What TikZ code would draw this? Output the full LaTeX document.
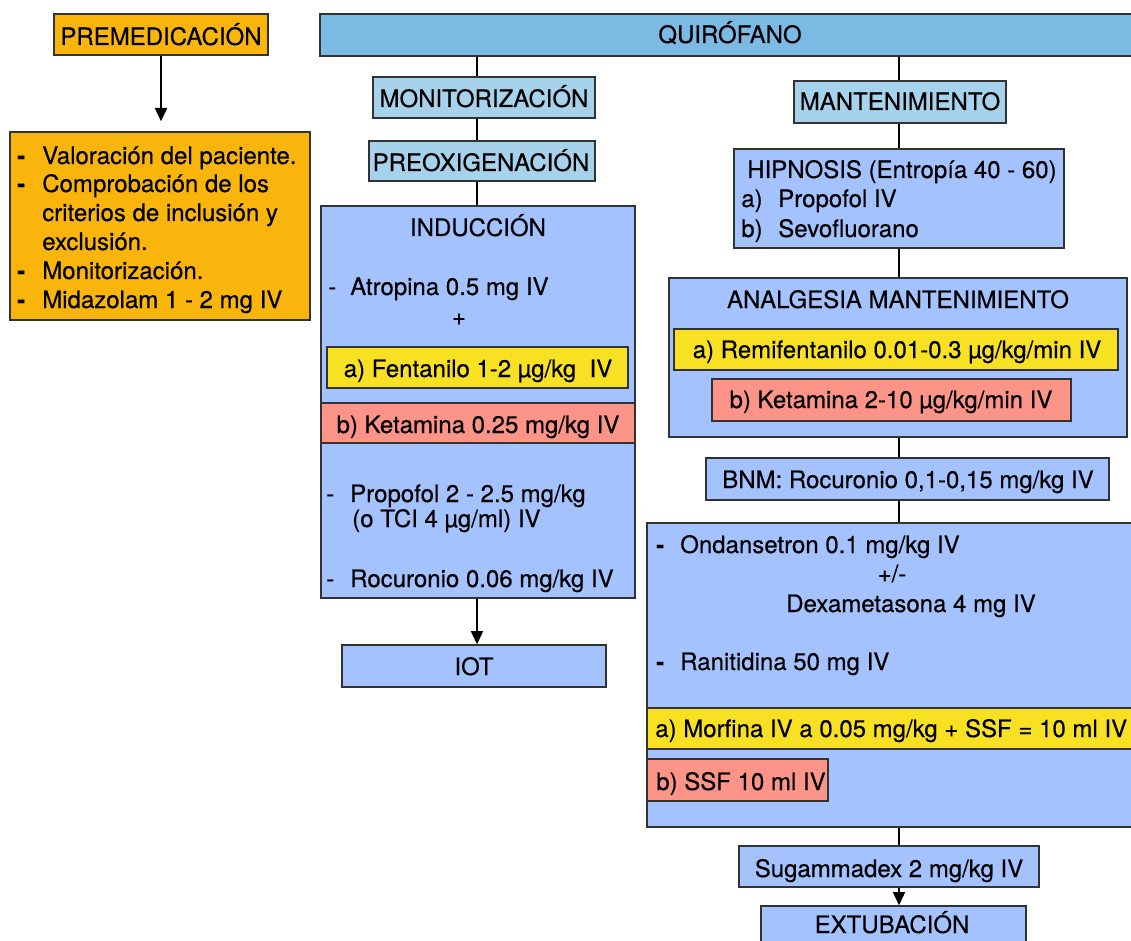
\documentclass[tikz,border=0pt]{standalone}
\usepackage{fontspec}
\setmainfont{TeX Gyre Heros}[FakeBold=0.4]
\usetikzlibrary{fit,arrows.meta}
\definecolor{orng}{RGB}{249,181,11}
\definecolor{qbar}{RGB}{123,186,227}
\definecolor{sky}{RGB}{166,210,236}
\definecolor{peri}{RGB}{164,195,254}
\definecolor{yel}{RGB}{248,224,35}
\definecolor{sal}{RGB}{252,148,136}
\definecolor{edge}{RGB}{50,50,50}
\begin{document}
\begin{tikzpicture}[x=0.75pt,y=-0.75pt,
  font=\fontsize{18}{21}\selectfont,
  box/.style={draw=edge, line width=1pt, inner sep=0pt, rectangle},
  ltxt/.style={inner sep=0pt, anchor=base west},
  ctxt/.style={inner sep=0pt, anchor=base},
  conn/.style={draw=black, line width=1.5pt},
  arr/.style={conn, -{Triangle[length=10pt,width=9pt]}}]
\useasboundingbox (0,0) rectangle (1131,941);
% ---------- PREMEDICACION ----------
\node[box, fill=orng, fit={(54,14) (268,55)}] (prem) {};
\node[ctxt] (tprem) at (161,45) {PREMEDICACIÓN};
\node[box, fill=orng, fit={(10,132) (310,320)}] (plist) {};
\node[ltxt] (d1) at (17,164) {\bfseries -};
\node[ltxt] (p1) at (42,164) {Valoración del paciente.};
\node[ltxt] (d2) at (17,192) {\bfseries -};
\node[ltxt] (p2) at (42,192) {Comprobación de los};
\node[ltxt] (p3) at (42,221) {criterios de inclusión y};
\node[ltxt] (p4) at (42,250) {exclusión.};
\node[ltxt] (d3) at (17,279) {\bfseries -};
\node[ltxt] (p5) at (42,279) {Monitorización.};
\node[ltxt] (d4) at (17,308) {\bfseries -};
\node[ltxt] (p6) at (42,308) {Midazolam 1 - 2 mg IV};
\draw[arr, shorten >=7.5pt] (prem.south) -- (prem.south |- plist.north);
% ---------- QUIROFANO ----------
\node[box, fill=qbar, fit={(320,14) (1145,56)}] (qbar) {};
\node[ctxt] (tq) at (730,43) {QUIRÓFANO};
\coordinate (lcol) at (477,0);
\coordinate (rcol) at (899,0);
% ---------- left column ----------
\node[box, fill=sky, fit={(373,77) (595,118)}] (monit) {};
\node[ctxt] (tmonit) at (484,107) {MONITORIZACIÓN};
\node[box, fill=sky, fit={(369,141) (595,181)}] (preox) {};
\node[ctxt] (tpreox) at (481,171) {PREOXIGENACIÓN};
\node[box, fill=peri, fit={(321,206) (635,598)}] (ind) {};
\node[ctxt] (tind) at (478,236) {INDUCCIÓN};
\node[ltxt] (ia0) at (328,295) {-};
\node[ltxt] (ia) at (350,295) {Atropina 0.5 mg IV};
\node[ctxt] (iplus) at (459,325) {+};
\node[box, fill=yel, fit={(327,347) (628,388)}] (ifen) {};
\node[ctxt] (tifen) at (478,377) {a) Fentanilo 1-2 µg/kg\ \ IV};
\node[box, fill=sal, fit={(321,403) (635,443)}] (iket) {};
\node[ctxt] (tiket) at (478,433) {b) Ketamina 0.25 mg/kg IV};
\node[ltxt] (ip0) at (326,502) {-};
\node[ltxt] (ip) at (350,502) {Propofol 2 - 2.5 mg/kg};
\node[ltxt] (ip2) at (352,527) {(o TCI 4 µg/ml) IV};
\node[ltxt] (ir0) at (326,587) {-};
\node[ltxt] (ir) at (350,587) {Rocuronio 0.06 mg/kg IV};
\node[box, fill=peri, fit={(342,645) (606,687)}] (iot) {};
\node[ctxt] (tiot) at (474,675) {IOT};
\draw[conn] (lcol |- qbar.south) -- (lcol |- monit.north);
\draw[conn] (lcol |- monit.south) -- (lcol |- preox.north);
\draw[conn] (lcol |- preox.south) -- (lcol |- ind.north);
\draw[arr] (lcol |- ind.south) -- (lcol |- iot.north);
% ---------- right column ----------
\node[box, fill=sky, fit={(794,81) (1006,123)}] (mant) {};
\node[ctxt] (tmant) at (900,110) {MANTENIMIENTO};
\node[box, fill=peri, fit={(734,149) (1064,248)}] (hip) {};
\node[ltxt] (th1) at (747,178) {HIPNOSIS (Entropía 40 - 60)};
\node[ltxt] (th2a) at (741,207) {a)};
\node[ltxt] (th2) at (778,207) {Propofol IV};
\node[ltxt] (th3a) at (741,237) {b)};
\node[ltxt] (th3) at (778,237) {Sevofluorano};
\node[box, fill=peri, fit={(669,278) (1127,437)}] (anal) {};
\node[ctxt] (tanal) at (898,308) {ANALGESIA MANTENIMIENTO};
\node[box, fill=yel, fit={(674,329) (1118,370)}] (remi) {};
\node[ctxt] (tremi) at (897,358) {a) Remifentanilo 0.01-0.3 µg/kg/min IV};
\node[box, fill=sal, fit={(712,379) (1071,421)}] (keta) {};
\node[ctxt] (tketa) at (891,408) {b) Ketamina 2-10 µg/kg/min IV};
\node[box, fill=peri, fit={(706,458) (1109,500)}] (bnm) {};
\node[ctxt] (tbnm) at (908,488) {BNM: Rocuronio 0,1-0,15 mg/kg IV};
\node[box, fill=peri, fit={(647,523) (1145,827)}] (big) {};
\node[ltxt] (bo0) at (656,553) {\bfseries -};
\node[ltxt] (bo) at (680,553) {Ondansetron 0.1 mg/kg IV};
\node[ctxt] (bpm) at (892,582) {+/-};
\node[ctxt] (bdex) at (911,612) {Dexametasona 4 mg IV};
\node[ltxt] (br0) at (656,670) {\bfseries -};
\node[ltxt] (br) at (680,670) {Ranitidina 50 mg IV};
\node[box, fill=yel, fit={(647,708) (1145,749)}] (morf) {};
\node[ltxt] (tmorf) at (655,737) {a) Morfina IV a 0.05 mg/kg + SSF = 10 ml IV};
\node[box, fill=sal, fit={(647,759) (828,801)}] (ssf) {};
\node[ltxt] (tssf) at (656,790) {b) SSF 10 ml IV};
\node[box, fill=peri, fit={(739,846) (1039,887)}] (sug) {};
\node[ctxt] (tsug) at (889,877) {Sugammadex 2 mg/kg IV};
\node[box, fill=peri, fit={(761,906) (1026,955)}] (ext) {};
\node[ctxt] (text) at (892,933) {EXTUBACIÓN};
\draw[conn] (rcol |- qbar.south) -- (rcol |- mant.north);
\draw[conn] (rcol |- mant.south) -- (rcol |- hip.north);
\draw[conn] (rcol |- hip.south) -- (rcol |- anal.north);
\draw[conn] (rcol |- anal.south) -- (rcol |- bnm.north);
\draw[conn] (rcol |- bnm.south) -- (rcol |- big.north);
\draw[conn] (rcol |- big.south) -- (rcol |- sug.north);
\draw[arr] (rcol |- sug.south) -- (rcol |- ext.north);
\end{tikzpicture}
\end{document}
